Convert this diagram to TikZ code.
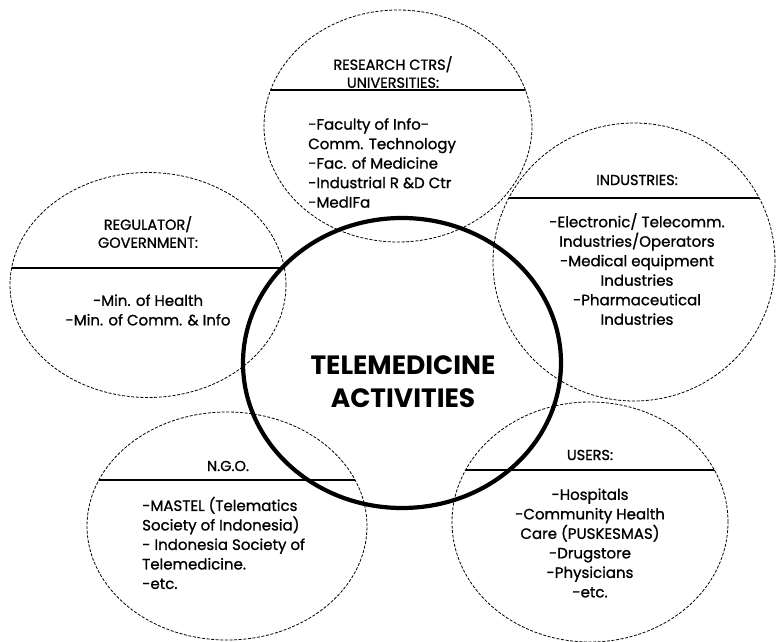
\documentclass[tikz,border=0pt]{standalone}
\usepackage{fontspec}
\setmainfont{Poppins}
\newfontfamily\grpfont{Poppins}[FakeBold=1]
\usetikzlibrary{shapes.geometric}
\begin{document}
\begin{tikzpicture}[x=1pt,y=-1pt,
  group/.style={ellipse, draw, line width=0.8pt, dash pattern=on 3pt off 1.6pt, inner sep=0pt, outer sep=0pt},
  divider/.style={path picture={\draw[solid,line width=1.6pt]
     ([xshift=-220pt,yshift=#1]path picture bounding box.center) --
     ([xshift=220pt,yshift=#1]path picture bounding box.center);}},
  head/.style={inner sep=0pt, align=center, font=\grpfont\fontsize{14.5}{18}\selectfont},
  body/.style={inner sep=0pt, font=\grpfont\fontsize{15}{19.5}\selectfont},
  core/.style={ellipse, draw, line width=4.2pt, inner sep=0pt}
]
\useasboundingbox (0,0) rectangle (777,642);
% satellite groups
\node[group, divider=36pt, minimum width=268pt, minimum height=232pt] (res) at (398,126) {};
\node[group, divider=64pt, minimum width=282pt, minimum height=278pt] (ind) at (634,262) {};
\node[group, divider=17pt, minimum width=276pt, minimum height=225pt] (reg) at (148,285) {};
\node[group, divider=46pt, minimum width=280pt, minimum height=228pt] (ngo) at (227,526) {};
\node[group, divider=52pt, minimum width=276pt, minimum height=240pt] (usr) at (590,522) {};
% centre
\node[core, minimum width=318pt, minimum height=290pt] (tele) at (402,363) {};
\node[inner sep=0pt, align=center, font=\bfseries\fontsize{26.5}{33}\selectfont] (title) at (403,382) {TELEMEDICINE\\ACTIVITIES};
% headings
\node[head] (resh) at (393,72) {RESEARCH CTRS/\\UNIVERSITIES:};
\node[head] (indh) at (637,180) {INDUSTRIES:};
\node[head] (regh) at (148,232) {REGULATOR/\\GOVERNMENT:};
\node[head] (ngoh) at (228,466) {N.G.O.};
\node[head] (usrh) at (590,455) {USERS:};
% bodies
\node[body, align=left, anchor=west] (resb) at (308,163) {-Faculty of Info-\\Comm. Technology\\-Fac. of Medicine\\-Industrial R \&D Ctr\\-MedIFa};
\node[body, align=center] (indb) at (637,269) {-Electronic/ Telecomm.\\Industries/Operators\\-Medical equipment\\Industries\\-Pharmaceutical\\Industries};
\node[body, align=center] (regb) at (148,310) {-Min. of Health\\-Min. of Comm. \& Info};
\node[body, align=left, anchor=west] (ngob) at (142,543) {-MASTEL (Telematics\\Society of Indonesia)\\- Indonesia Society of\\Telemedicine.\\-etc.};
\node[body, align=center] (usrb) at (590,543) {-Hospitals\\-Community Health\\Care (PUSKESMAS)\\-Drugstore\\-Physicians\\-etc.};
\end{tikzpicture}
\end{document}
